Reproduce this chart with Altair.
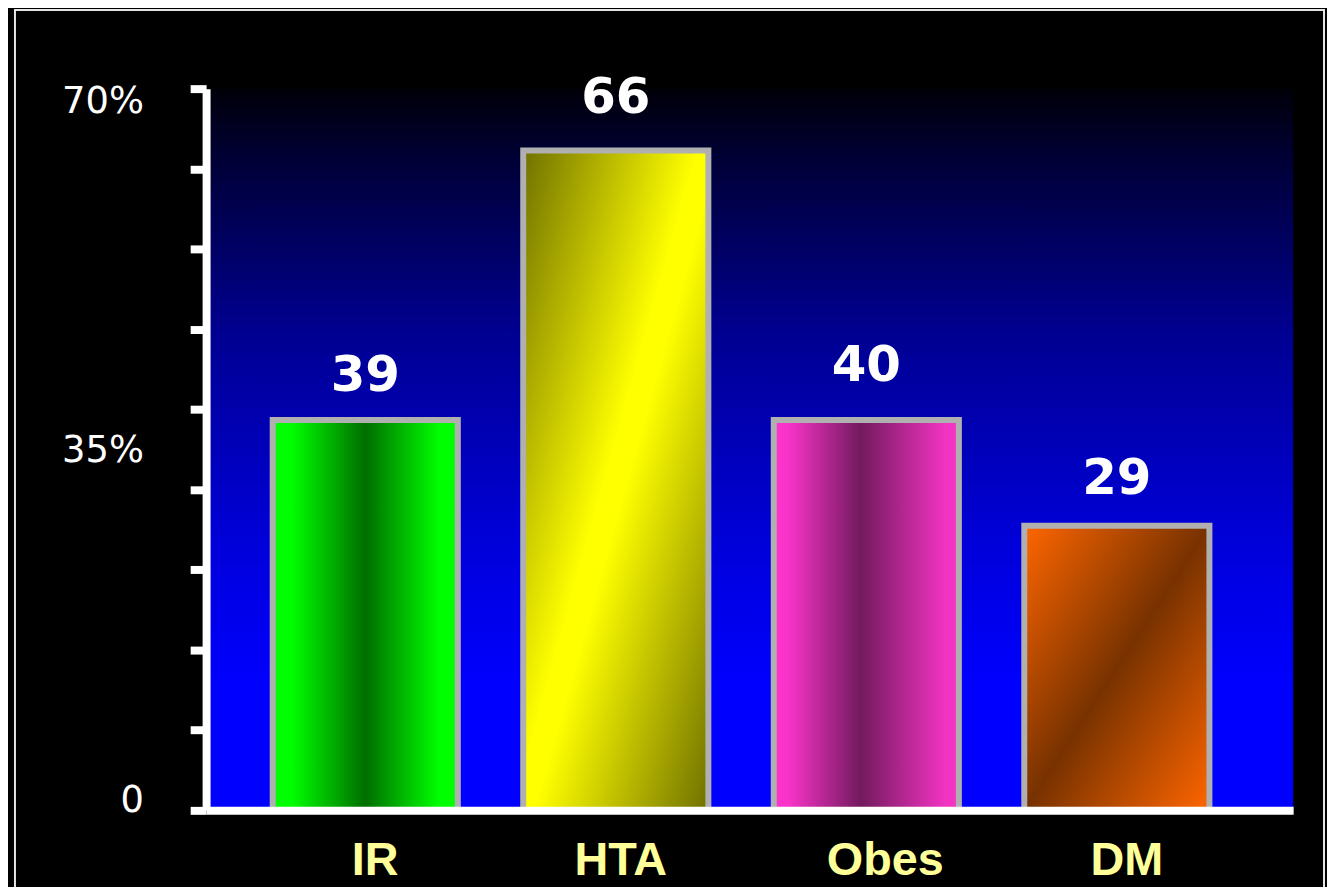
import altair as alt
import pandas as pd

# ---- data ----
categories = ["IR", "HTA", "Obes", "DM"]
bar_values = [37.85, 64.0, 37.85, 27.6]        # bar heights (%) as drawn
label_values = [39, 66, 40, 29]                # numbers printed above bars
label_texts = ["39", "66", "40", "29"]
y_tick_values = [70 * i / 9 for i in range(10)] + [35]
y_domain = [0, 70]

df = pd.DataFrame({
    "cat": categories,
    "value": bar_values,
    "label_value": label_values,
    "label": label_texts,
})


def grad(stops, x2=1, y2=0):
    return alt.Gradient(
        gradient="linear",
        stops=[alt.GradientStop(offset=o, color=c) for o, c in stops],
        x1=0, y1=0, x2=x2, y2=y2,
    )


bar_fills = {
    "IR": grad([(0, "#00ff00"), (0.1, "#00ff00"), (0.5, "#006e00"), (0.9, "#00ff00"), (1, "#00ff00")]),
    "HTA": grad([(0, "#707000"), (0.47, "#ffff00"), (0.53, "#ffff00"), (1, "#707000")], x2=1, y2=1),
    "Obes": grad([(0, "#ff33cc"), (0.08, "#f833c8"), (0.47, "#721a5e"), (0.92, "#f033c0"), (1, "#f535c5")]),
    "DM": grad([(0, "#ff6600"), (0.5, "#783200"), (1, "#ff6600")], x2=1, y2=1),
}

bg_fill = grad([(0, "#000008"), (0.09, "#000033"), (0.335, "#000090"), (0.46, "#0000b0"),
                (0.64, "#0000dc"), (0.83, "#0000ff"), (1, "#0000ff")], x2=0, y2=1)

x_scale = alt.Scale(domain=categories, paddingInner=0.261, paddingOuter=0.30, align=0.443)
y_scale = alt.Scale(domain=y_domain, nice=False, zero=True)

x_axis = alt.Axis(
    title=None, domainColor="white", domainWidth=8, domainCap="butt",
    ticks=False, tickSize=0,
    labelColor="#ffff99", labelFont="Liberation Sans", labelFontWeight="bold",
    labelFontSize=47, labelPadding=64, labelBaseline="alphabetic", labelAngle=0,
    labelOffset={"condition": [{"test": "datum.value == 'HTA'", "value": 5},
                               {"test": "datum.value == 'Obes'", "value": 19}], "value": 10},
    zindex=1,
)

y_axis = alt.Axis(
    title=None, grid=False, values=y_tick_values,
    domainColor="white", domainWidth=8, domainCap="butt",
    tickColor={"condition": {"test": "datum.value == 35", "value": "transparent"}, "value": "white"},
    tickWidth=8, tickSize=16, tickCap="butt",
    labelColor="white", labelFont="DejaVu Sans", labelFontSize=37, labelPadding=47,
    labelBaseline="middle", labelFlush=False, labelOverlap=False,
    labelExpr="datum.value == 0 ? '0' : (datum.value == 35 ? '35%' : (datum.value == 70 ? '70%' : ''))",
    labelOffset={"condition": [{"test": "datum.value == 70", "value": 13},
                               {"test": "datum.value == 0", "value": -10}], "value": 1},
    zindex=1,
)

X = alt.X("cat:N", scale=x_scale, axis=x_axis, sort=categories)

one_row = alt.Data(values=[{"f": 1}])

background = alt.Chart(one_row).mark_rect(fill=bg_fill).encode(
    x=alt.value(0), x2=alt.value("width"), y=alt.value(0), y2=alt.value("height")
)

frame = alt.Chart(one_row).mark_rect(
    fill="transparent", stroke="#e6e6e6", strokeWidth=2
).encode(x=alt.value(-192), x2=alt.value(1123), y=alt.value(-79), y2=alt.value(820))

bars = []
for c in categories:
    bars.append(
        alt.Chart(df).transform_filter(alt.datum.cat == c).mark_bar(
            fill=bar_fills[c], stroke="#b0b0b0", strokeWidth=6
        ).encode(x=X, y=alt.Y("value:Q", scale=y_scale, axis=y_axis))
    )

labels = alt.Chart(df).mark_text(
    font="DejaVu Sans", fontWeight="bold", fontSize=50, color="white",
    baseline="alphabetic", dy=-17
).encode(x=X, y=alt.Y("label_value:Q", scale=y_scale, axis=y_axis), text="label:N")

chart = alt.layer(background, frame, *bars, labels).properties(
    width=1092, height=725,
    autosize=alt.AutoSizeParams(type="none"),
    padding={"left": 199, "top": 79, "right": 34, "bottom": 75},
    background="black",
).configure_view(stroke=None)

chart.save("out.html", embed_options={"renderer": "svg", "actions": False})
